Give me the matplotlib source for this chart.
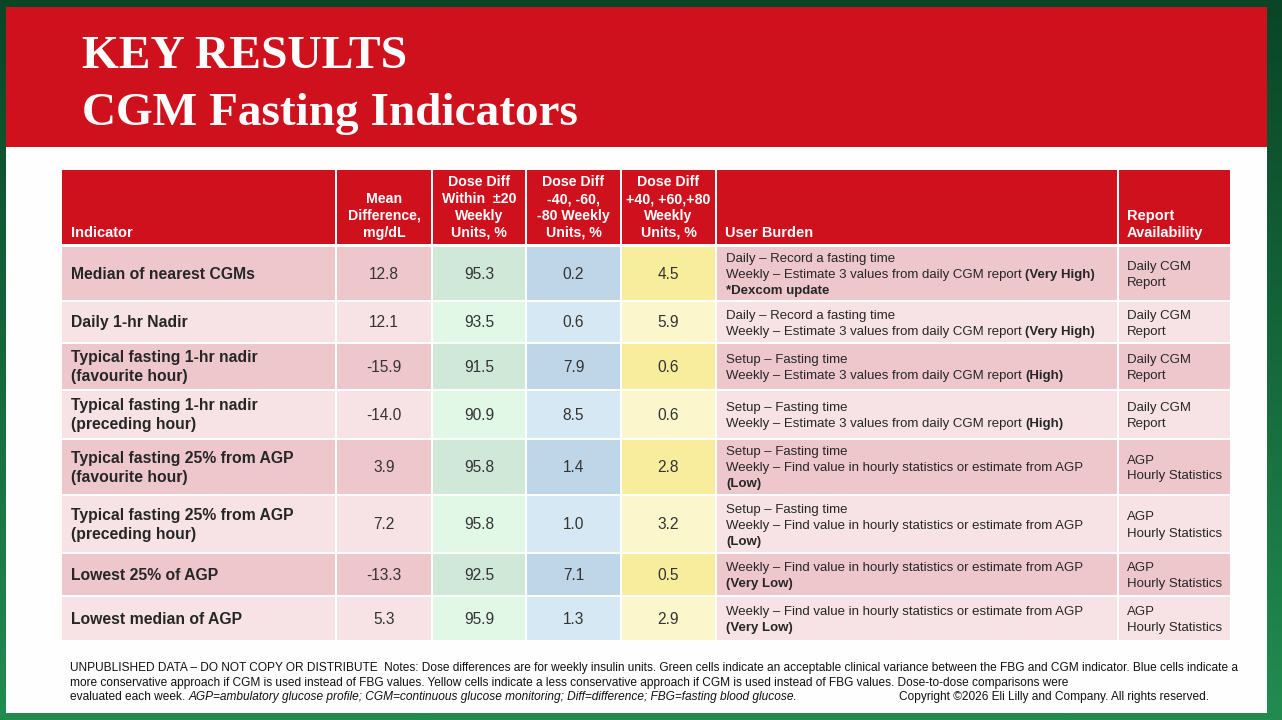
import matplotlib
matplotlib.use("Agg")
import matplotlib.pyplot as plt
import numpy as np
from matplotlib.patches import Rectangle

# ---------------- data ----------------
title_lines = ["KEY RESULTS", "CGM Fasting Indicators"]

headers = ["Indicator", "Mean\nDifference,\nmg/dL", "Dose Diff\nWithin  \u00b120\nWeekly\nUnits, %",
           "Dose Diff\n-40, -60,\n-80 Weekly\nUnits, %", "Dose Diff\n+40, +60,+80\nWeekly\nUnits, %",
           "User Burden", "Report\nAvailability"]

indicators = ["Median of nearest CGMs", "Daily 1-hr Nadir",
              "Typical fasting 1-hr nadir\n(favourite hour)",
              "Typical fasting 1-hr nadir\n(preceding hour)",
              "Typical fasting 25% from AGP\n(favourite hour)",
              "Typical fasting 25% from AGP\n(preceding hour)",
              "Lowest 25% of AGP", "Lowest median of AGP"]

mean_diff = [12.8, 12.1, -15.9, -14.0, 3.9, 7.2, -13.3, 5.3]
within_20 = [95.3, 93.5, 91.5, 90.9, 95.8, 95.8, 92.5, 95.9]
minus_dose = [0.2, 0.6, 7.9, 8.5, 1.4, 1.0, 7.1, 1.3]
plus_dose = [4.5, 5.9, 0.6, 0.6, 2.8, 3.2, 0.5, 2.9]

user_burden = [
    ["Daily \u2013 Record a fasting time",
     "Weekly \u2013 Estimate 3 values from daily CGM report **(Very High)**",
     "***Dexcom update**"],
    ["Daily \u2013 Record a fasting time",
     "Weekly \u2013 Estimate 3 values from daily CGM report **(Very High)**"],
    ["Setup \u2013 Fasting time",
     "Weekly \u2013 Estimate 3 values from daily CGM report **(High)**"],
    ["Setup \u2013 Fasting time",
     "Weekly \u2013 Estimate 3 values from daily CGM report **(High)**"],
    ["Setup \u2013 Fasting time",
     "Weekly \u2013 Find value in hourly statistics or estimate from AGP",
     "**(Low)**"],
    ["Setup \u2013 Fasting time",
     "Weekly \u2013 Find value in hourly statistics or estimate from AGP",
     "**(Low)**"],
    ["Weekly \u2013 Find value in hourly statistics or estimate from AGP",
     "**(Very Low)**"],
    ["Weekly \u2013 Find value in hourly statistics or estimate from AGP",
     "**(Very Low)**"],
]

report_avail = ["Daily CGM\nReport", "Daily CGM\nReport", "Daily CGM\nReport", "Daily CGM\nReport",
                "AGP\nHourly Statistics", "AGP\nHourly Statistics",
                "AGP\nHourly Statistics", "AGP\nHourly Statistics"]

footnote_lines = [
    "UNPUBLISHED DATA \u2013 DO NOT COPY OR DISTRIBUTE  Notes: Dose differences are for weekly insulin units. Green cells indicate an acceptable clinical variance between the FBG and CGM indicator. Blue cells indicate a",
    "more conservative approach if CGM is used instead of FBG values. Yellow cells indicate a less conservative approach if CGM is used instead of FBG values. Dose-to-dose comparisons were",
    "evaluated each week. //AGP=ambulatory glucose profile; CGM=continuous glucose monitoring; Diff=difference; FBG=fasting blood glucose.//",
]
copyright_text = "Copyright \u00a92026 Eli Lilly and Company. All rights reserved."

# ---------------- layout ----------------
W, H = 1282, 720
fig = plt.figure(figsize=(W / 100, H / 100), dpi=100)
ax = fig.add_axes([0, 0, 1, 1])
ax.set_xlim(0, W)
ax.set_ylim(H, 0)
ax.axis("off")

# green frame gradient
grad = np.linspace(0, 1, 256)[:, None]
c_top = np.array([0x0a, 0x45, 0x26]) / 255
c_bot = np.array([0x22, 0x8c, 0x50]) / 255
img = c_top[None, None, :] * (1 - grad[..., None]) + c_bot[None, None, :] * grad[..., None]
img = np.repeat(img, 2, axis=1)
ax.imshow(img, extent=[0, W, H, 0], aspect="auto", zorder=0)

# slide
ax.add_patch(Rectangle((6, 7), 1261, 706, facecolor="#fdfefd", edgecolor="none", zorder=1))
ax.add_patch(Rectangle((6, 7), 1261, 140, facecolor="#cf111d", edgecolor="none", zorder=2))

SANS = "Liberation Sans"
SERIF = "Liberation Serif"
ax.text(82, 68, title_lines[0], family=SERIF, weight="bold", fontsize=34.2, color="white",
        va="baseline", ha="left", zorder=3)
ax.text(82, 125, title_lines[1], family=SERIF, weight="bold", fontsize=34.0, color="white",
        va="baseline", ha="left", zorder=3)

col_edges = [62, 336, 432, 526, 621, 716, 1118, 1230]
row_edges = [247, 302, 344, 391, 440, 496, 554, 597, 642]
head_top, head_bot = 170, 244
gap = 2
RED = "#cf111d"

pink = ("#eec7cd", "#f7e3e6")
green = ("#cfe8d8", "#e1f8e7")
blue = ("#bfd6e8", "#d7e8f5")
yellow = ("#f8ec9d", "#fbf6cc")
col_colors = [pink, pink, green, blue, yellow, pink, pink]

# header cells
for j in range(7):
    x0 = col_edges[j] + (gap / 2 if j > 0 else 0)
    x1 = col_edges[j + 1] - (gap / 2 if j < 6 else 0)
    ax.add_patch(Rectangle((x0, head_top), x1 - x0, head_bot - head_top, facecolor=RED,
                           edgecolor="none", zorder=2))
    lines = headers[j].split("\n")
    n = len(lines)
    for k, ln in enumerate(lines):
        yc = 232 - (n - 1 - k) * 16.7
        if j in (0, 5, 6):
            ax.text(col_edges[j] + 9, yc + 4.7, ln, family=SANS, weight="bold", fontsize=10.5,
                    color="white", ha="left", va="baseline", zorder=3)
        else:
            ax.text((x0 + x1) / 2, yc + 4.6, ln, family=SANS, weight="bold", fontsize=10.2,
                    color="white", ha="center", va="baseline", zorder=3)

renderer = fig.canvas.get_renderer()
inv = ax.transData.inverted()


def mixed_line(x, y, line, size, color, marker="**", style_key="weight", style_val="bold"):
    parts = line.split(marker)
    cx = x
    for i, p in enumerate(parts):
        if p == "":
            continue
        kw = {style_key: style_val} if i % 2 == 1 else {}
        trailing = p.endswith(" ")
        leading = p.startswith(" ")
        txt = p.strip(" ")
        if leading:
            cx += size * 0.278 * 100 / 72
        t = ax.text(cx, y, txt, family=SANS, fontsize=size, color=color, ha="left",
                    va="baseline", zorder=3, **kw)
        bb = t.get_window_extent(renderer)
        cx = inv.transform((bb.x1, bb.y0))[0]
        if trailing:
            cx += size * 0.278 * 100 / 72
    return cx


TXT = "#262626"
for i in range(8):
    y0 = row_edges[i]
    y1 = row_edges[i + 1] - gap
    yc = (y0 + y1) / 2
    shade = i % 2
    for j in range(7):
        x0 = col_edges[j] + (gap / 2 if j > 0 else 0)
        x1 = col_edges[j + 1] - (gap / 2 if j < 6 else 0)
        ax.add_patch(Rectangle((x0, y0), x1 - x0, y1 - y0, facecolor=col_colors[j][shade],
                               edgecolor="none", zorder=2))
        xm = (x0 + x1) / 2
        if j == 0:
            lines = indicators[i].split("\n")
            n = len(lines)
            for k, ln in enumerate(lines):
                ly = yc + (k - (n - 1) / 2) * 19
                ax.text(71, ly + 5.4, ln, family=SANS, weight="bold", fontsize=11.3, color=TXT,
                        ha="left", va="baseline", zorder=3)
        elif j in (1, 2, 3, 4):
            vals = [mean_diff, within_20, minus_dose, plus_dose][j - 1]
            ax.text(xm, yc + 5.2, f"{vals[i]:.1f}", family=SANS, fontsize=11.2, color="#333333",
                    ha="center", va="baseline", zorder=3)
        elif j == 5:
            lines = user_burden[i]
            n = len(lines)
            for k, ln in enumerate(lines):
                ly = yc + (k - (n - 1) / 2) * 16
                mixed_line(726, ly + 4.5, ln, 9.5, TXT)
        elif j == 6:
            lines = report_avail[i].split("\n")
            n = len(lines)
            for k, ln in enumerate(lines):
                ly = yc + (k - (n - 1) / 2) * 16
                ax.text(1127, ly + 4.5, ln, family=SANS, fontsize=9.5, color=TXT,
                        ha="left", va="baseline", zorder=3)

# footnotes
fy = [667, 682, 696]
for k, ln in enumerate(footnote_lines):
    mixed_line(70, fy[k] + 3.7, ln, 8.6, "#111111", marker="//", style_key="style", style_val="italic")
ax.text(899, fy[2] + 3.7, copyright_text, family=SANS, fontsize=8.6, color="#111111",
        ha="left", va="baseline", zorder=3)

fig.savefig("out.png", dpi=100)
